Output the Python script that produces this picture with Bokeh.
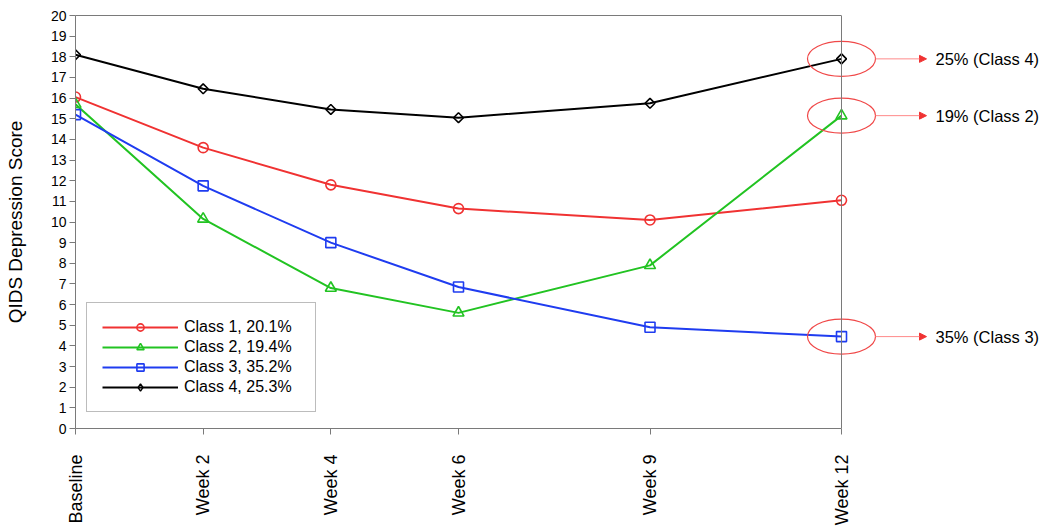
import math
from bokeh.plotting import figure
from bokeh.models import (FixedTicker, LinearAxis, Span, Legend, LegendItem,
                          Arrow, NormalHead, Range1d)
from bokeh.core.properties import value
from bokeh.embed import file_html
from bokeh.resources import INLINE

# ---- data ----
weeks = [0, 2, 4, 6, 9, 12]
week_labels = ["Baseline", "Week 2", "Week 4", "Week 6", "Week 9", "Week 12"]
class1 = [16.05, 13.6, 11.8, 10.65, 10.1, 11.05]
class2 = [15.7, 10.15, 6.8, 5.6, 7.9, 15.15]
class3 = [15.2, 11.75, 9.0, 6.85, 4.9, 4.45]
class4 = [18.1, 16.45, 15.45, 15.05, 15.75, 17.9]
legend_labels = ["Class 1, 20.1%", "Class 2, 19.4%", "Class 3, 35.2%", "Class 4, 25.3%"]
callout_labels = ["25% (Class 4)", "19% (Class 2)", "35% (Class 3)"]
y_ticks = list(range(0, 21))

FONT = "Liberation Sans"
GREY = "#7a7a7a"
RED = "#f03232"
GREEN = "#22c322"
BLUE = "#1f3cf0"
BLACK = "#000000"

W, H = 1048, 528
LEFT, TOP, RIGHT, BOTTOM = 75, 15, 0, 100
frame_w = W - LEFT - RIGHT
px_per_week = 766.0 / 12.0
x_end = frame_w / px_per_week

p = figure(width=W, height=H, x_range=Range1d(0, x_end), y_range=Range1d(0, 20),
           output_backend="svg", toolbar_location=None,
           min_border_left=LEFT, min_border_top=TOP, min_border_right=RIGHT,
           min_border_bottom=BOTTOM)
p.outline_line_color = None
p.xgrid.visible = False
p.ygrid.visible = False
p.background_fill_color = "white"
p.border_fill_color = "white"

# y axis
ya = p.yaxis[0]
ya.ticker = FixedTicker(ticks=y_ticks)
ya.axis_line_color = GREY
ya.major_tick_line_color = GREY
ya.major_tick_out = 6
ya.major_tick_in = 0
ya.minor_tick_line_color = None
ya.major_label_text_font = FONT
ya.major_label_text_font_size = "14px"
ya.major_label_text_color = "black"
ya.major_label_standoff = 3
ya.axis_label = "QIDS Depression Score"
ya.axis_label_text_font = FONT
ya.axis_label_text_font_size = "19px"
ya.axis_label_text_font_style = "normal"
ya.axis_label_text_color = "black"
ya.axis_label_standoff = 22

# x axis
xa = p.xaxis[0]
xa.ticker = FixedTicker(ticks=weeks)
xa.major_label_overrides = {w: l for w, l in zip(weeks, week_labels)}
xa.bounds = (weeks[0], weeks[-1])
xa.axis_line_color = GREY
xa.major_tick_line_color = GREY
xa.major_tick_out = 6
xa.major_tick_in = 0
xa.minor_tick_line_color = None
xa.major_label_orientation = math.pi / 2
xa.major_label_text_font = FONT
xa.major_label_text_font_size = "18px"
xa.major_label_text_color = "black"
xa.major_label_standoff = 20

# top border
top_axis = LinearAxis(ticker=FixedTicker(ticks=[]), bounds=(weeks[0], weeks[-1]),
                      axis_line_color=GREY, major_tick_line_color=None,
                      minor_tick_line_color=None, major_label_text_font_size="0px")
p.add_layout(top_axis, "above")
# right border at last week
p.add_layout(Span(location=weeks[-1], dimension="height", line_color=GREY, line_width=1))

series = [(class1, RED, "circle", 10, 0.0), (class2, GREEN, "triangle", 11, 0.0),
          (class3, BLUE, "square", 10, 0.0), (class4, BLACK, "square", 7, math.pi / 4)]
items = []
for (vals, col, mk, sz, ang), lab in zip(series, legend_labels):
    ln = p.line(weeks, vals, line_color=col, line_width=2)
    sc = p.scatter(weeks, vals, marker=mk, size=sz, angle=ang, line_color=col,
                   line_width=1.6, fill_color="white", fill_alpha=0.0)
    if ang != 0.0:
        # legend-only diamond swatch (no data points drawn)
        sc = p.scatter([float("nan")], [float("nan")], marker="diamond", size=12,
                       line_color=col, line_width=1.4, fill_color="white",
                       fill_alpha=0.0)
    items.append(LegendItem(label=lab, renderers=[ln, sc]))

legend = Legend(items=items, location=(11, 16), orientation="vertical")
legend.label_text_font = FONT
legend.label_text_font_size = "16px"
legend.label_text_color = "black"
legend.glyph_width = 76
legend.glyph_height = 18
legend.label_height = 18
legend.label_width = 116
legend.label_standoff = 6
legend.spacing = 2
legend.padding = 15
legend.margin = 0
legend.border_line_color = GREY
legend.border_line_width = 1
legend.background_fill_color = "white"
legend.background_fill_alpha = 1.0
p.add_layout(legend, "center")

# callouts
end_vals = [class4[-1], class2[-1], class3[-1]]
end_x = [weeks[-1]] * 3
p.ellipse(x=end_x, y=end_vals, width=68, height=35, width_units="screen",
          height_units="screen", fill_color=None, line_color="#f04848", line_width=1.2)
half_w = 34.0 / px_per_week
arrow_len = 51.0 / px_per_week
for v in end_vals:
    p.add_layout(Arrow(end=NormalHead(size=7, fill_color=RED, line_color=RED),
                       x_start=weeks[-1] + half_w, y_start=v,
                       x_end=weeks[-1] + half_w + arrow_len, y_end=v,
                       line_color="#ff8a8a", line_width=1))
p.text(x=[weeks[-1] + half_w + arrow_len + 9.0 / px_per_week] * 3, y=end_vals,
       text=callout_labels, text_font=value(FONT), text_font_size="16.5px",
       text_baseline="middle", text_align="left", text_color="black")

open("out.html", "w").write(file_html(p, INLINE))
